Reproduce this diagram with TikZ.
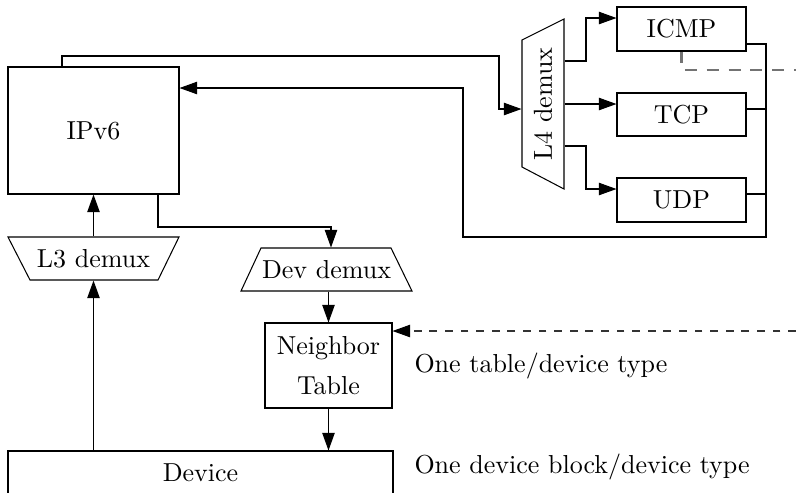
\documentclass[tikz,border=0pt]{standalone}
\usetikzlibrary{arrows.meta,fit}
\begin{document}
\begin{tikzpicture}[x=0.3846pt, y=-0.3846pt,
  box/.style={draw, inner sep=0pt},
  area/.style={inner sep=0pt},
  arr/.style={-{Triangle[length=6.8pt,width=4.8pt,color=black]}},
  note/.style={anchor=base west, inner sep=0pt},
  tapdash/.style={draw=black!55, line width=0.8pt, dash pattern=on 4.6pt off 3.8pt},
]
\clip (0,0) rectangle (796,492);

% blocks (text set as a centred label)
\node[box, fit={(8,67) (179,194)}, label=center:IPv6] (ipv6) {};
\node[box, fit={(617,7) (746,51)}, label=center:ICMP] (icmp) {};
\node[box, fit={(617,93) (746,136)}, label=center:TCP] (tcp) {};
\node[box, fit={(617,178) (746,222)}, label=center:UDP] (udp) {};
\node[box, fit={(265,323) (392,408)},
      label={[align=center]center:Neighbor\\[3.3pt]Table}] (nt) {};
\node[box, fit={(8,451) (393,494)}, label=center:Device] (device) {};

% demultiplexers
\draw (8,237) -- (179,237) -- (158,280) -- (30,280) -- cycle;
\node[area, fit={(8,237) (179,280)}, label=center:L3 demux] (l3) {};
\draw (261,248) -- (391,248) -- (412,291) -- (241,291) -- cycle;
\node[area, fit={(241,248) (412,291)}, label=center:Dev demux] (devd) {};
\draw (522,40) -- (564,19) -- (564,189) -- (522,167) -- cycle;
\node[area, fit={(522,19) (564,189)}] (l4) {};
\node[rotate=90] (l4text) at (l4.center) {L4 demux};

% notes
\node[note] (ttable) at (414,372) {One table/device type};
\node[note] (tdev) at (414,473) {One device block/device type};

% IPv6 to transport demux
\draw[arr] (ipv6.north -| 62,0) |- (499,56) |- (l4.west |- 0,109);

% transport demux to protocols
\draw[arr] (l4.east |- 0,61) -- (586,61) |- (icmp.west |- 0,18);
\draw[arr] (l4.east |- 0,104) -- (tcp.west |- 0,104);
\draw[arr] (l4.east |- 0,146) -- (586,146) |- (udp.west |- 0,189);

% protocols back to IPv6
\draw[arr] (icmp.east |- 0,44) -| (766,237) -| (463,88) -- (ipv6.east |- 0,88);
\draw (tcp.east |- 0,109) -- (766,109);
\draw (udp.east |- 0,194) -- (766,194);

% lower stack
\draw[arr] (ipv6.south -| 158,0) |- (331,227) -- (devd.north -| 331,0);
\draw[arr] (l3.north) -- (ipv6.south -| l3.north);
\draw[arr] (device.north -| l3.south) -- (l3.south);
\draw[arr] (devd.south -| nt.north) -- (nt.north);
\draw[arr] (nt.south) -- (device.north -| nt.south);

% dashed links
\draw[arr, dashed, draw=black!80] (796,331) -- (nt.east |- 0,331);
\draw[tapdash] (icmp.south) -- (icmp.south |- 0,70) -- (796,70);
\end{tikzpicture}
\end{document}
